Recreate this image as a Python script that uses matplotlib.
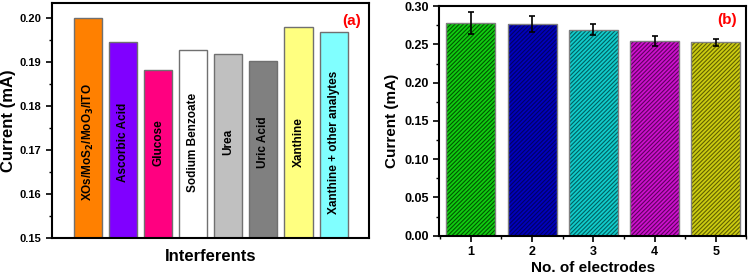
import numpy as np
from matplotlib import pyplot as plt
from matplotlib.ticker import MultipleLocator

plt.rcParams['font.family'] = ['Liberation Sans', 'DejaVu Sans']
plt.rcParams['font.weight'] = 'bold'
plt.rcParams['hatch.linewidth'] = 0.8

#####################################################################################################
# Data: (a) interferents
interferents = ["XOs/MoS$_\\mathbf{2}$/MoO$_\\mathbf{3}$/ITO", "Ascorbic Acid", "Glucose", "Sodium Benzoate",
                "Urea", "Uric Acid", "Xanthine", "Xanthine + other analytes"]
interf_current = [0.2000, 0.1947, 0.1883, 0.1929, 0.1918, 0.1903, 0.1980, 0.1969]
interf_colors = ["#FF8000", "#8000FF", "#FF0080", "#FFFFFF", "#C0C0C0", "#808080", "#FFFF80", "#80FFFF"]

# Data: (b) reproducibility
electrodes = [1, 2, 3, 4, 5]
electrode_current = [0.278, 0.2765, 0.269, 0.2545, 0.2525]
electrode_err = [0.014, 0.010, 0.007, 0.0065, 0.0045]
electrode_colors = ["#11CC11", "#0000BB", "#11CCCC", "#CC11CC", "#CCCC11"]
hatch_colors = ["#005500", "#000066", "#006060", "#600060", "#606000"]

#####################################################################################################
fig = plt.figure(figsize=(7.5, 2.74), dpi=100)
ax1 = fig.add_axes([0.0693, 0.131, 0.4227, 0.858])
ax2 = fig.add_axes([0.5853, 0.1397, 0.41, 0.838])

# (a)
x1 = np.arange(len(interferents))
ax1.bar(x1, interf_current, width=0.8, color=interf_colors, edgecolor="#707070", linewidth=1.0)
for xi, name in zip(x1, interferents):
    ax1.text(xi, 0.1718, name, rotation=90, ha="center", va="center", fontsize=8.5, fontweight="bold")
ax1.set_ylim(0.15, 0.2035)
ax1.set_xlim(-1.03, len(interferents) + 0.01)
ax1.yaxis.set_minor_locator(MultipleLocator(0.005))
ax1.set_yticks(np.arange(0.15, 0.2001, 0.01))
ax1.yaxis.set_major_formatter(plt.FormatStrFormatter("%.2f"))
ax1.set_xticks([])
ax1.tick_params(axis="y", which="major", direction="out", length=4, width=1.2, labelsize=8)
ax1.tick_params(axis="y", which="minor", direction="out", length=2, width=1.0)
ax1.set_ylabel("Current (mA)", fontsize=12, fontweight="bold")
ax1.yaxis.set_label_coords(-0.115, 0.5)
ax1.set_xlabel("Interferents", fontsize=12, fontweight="bold", labelpad=8)
for s in ax1.spines.values():
    s.set_linewidth(1.5)
ax1.text(0.975, 0.925, "(a)", transform=ax1.transAxes, color="red", fontsize=11,
         fontweight="bold", ha="right", va="center")

# (b)
ax2.bar(electrodes, electrode_current, width=0.8, color=electrode_colors, edgecolor=hatch_colors,
        linewidth=0, hatch="////////")
ax2.bar(electrodes, electrode_current, width=0.8, fill=False, edgecolor="#808080", linewidth=1.0)
ax2.errorbar(electrodes, electrode_current, yerr=electrode_err, fmt="none", ecolor="black",
             elinewidth=1.2, capsize=2.5, capthick=1.2)
ax2.set_ylim(0, 0.30)
ax2.set_xlim(0.48, 5.5)
ax2.yaxis.set_major_locator(MultipleLocator(0.05))
ax2.yaxis.set_minor_locator(MultipleLocator(0.025))
ax2.yaxis.set_major_formatter(plt.FormatStrFormatter("%.2f"))
ax2.set_xticks(electrodes)
ax2.xaxis.set_minor_locator(MultipleLocator(0.5))
ax2.tick_params(which="major", direction="out", length=4, width=1.2, labelsize=9)
ax2.tick_params(which="minor", direction="out", length=2, width=1.0)
ax2.set_ylabel("Current (mA)", fontsize=11, fontweight="bold", labelpad=4)
ax2.set_xlabel("No. of electrodes", fontsize=11, fontweight="bold", labelpad=2)
for s in ax2.spines.values():
    s.set_linewidth(1.5)
ax2.text(0.97, 0.94, "(b)", transform=ax2.transAxes, color="red", fontsize=11,
         fontweight="bold", ha="right", va="center")

plt.savefig("out.png", dpi=100)
